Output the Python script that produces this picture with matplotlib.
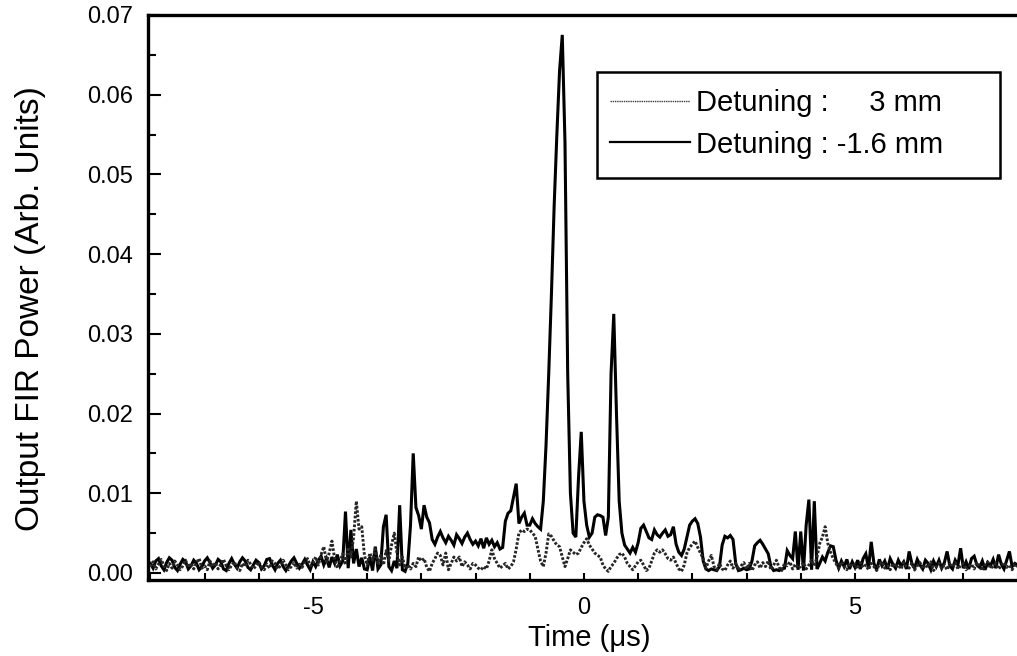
import numpy as np
import matplotlib
matplotlib.use("Agg")
import matplotlib.pyplot as plt
from matplotlib.lines import Line2D
from matplotlib.patches import Rectangle
from matplotlib.ticker import MultipleLocator, FormatStrFormatter

plt.rcParams["font.family"] = ["Liberation Sans", "DejaVu Sans"]
plt.rcParams["axes.unicode_minus"] = False

# Sample times (µs), 0.05 µs spacing from -8 to 8
time_us = np.round(np.arange(-8.0, 8.0 + 1e-9, 0.05), 2)

# Output FIR power in units of 1e-3 (arb.), one row per microsecond
power_3mm = [
    0.8, 1.4, 0.5, 1.1, 1.7, 0.9, 0.3, 1.2, 0.6, 1.5, 1.0, 0.4, 0.9, 1.6, 0.7, 1.2, 0.5, 1.3, 1.8, 0.6,
    0.9, 0.4, 1.5, 0.8, 1.3, 0.5, 1.1, 1.7, 0.9, 0.4, 1.0, 1.4, 0.6, 0.3, 1.2, 0.8, 1.6, 1.1, 0.5, 0.9,
    1.4, 0.7, 0.4, 1.1, 0.6, 1.5, 1.2, 0.5, 0.9, 1.6, 1.0, 0.4, 0.8, 1.3, 0.6, 1.1, 0.7, 1.4, 1.8, 0.9,
    1.2, 2.0, 1.0, 2.3, 3.3, 1.4, 2.5, 4.0, 1.8, 0.6, 1.5, 2.4, 1.0, 3.2, 2.0, 4.5, 9.0, 5.5, 5.8, 2.2,
    1.0, 2.5, 1.6, 3.0, 1.2, 2.2, 1.0, 2.8, 1.5, 3.5, 5.0, 2.5, 1.0, 2.0, 0.6, 1.0, 0.5, 1.2, 0.8, 2.0,
    1.5, 1.8, 0.7, 0.2, 1.2, 1.8, 2.5, 2.2, 1.0, 2.5, 0.4, 1.2, 2.0, 1.5, 2.0, 0.8, 1.4, 1.0, 0.5, 1.2,
    1.0, 0.6, 0.4, 0.8, 0.5, 1.5, 2.9, 1.8, 1.2, 0.6, 0.9, 1.2, 0.5, 0.8, 1.4, 3.0, 5.0, 5.4, 5.2, 5.5,
    5.4, 5.0, 4.6, 3.0, 1.5, 0.8, 2.5, 4.9, 4.6, 4.0, 3.5, 3.3, 2.0, 0.8, 1.8, 2.9, 2.6, 2.3, 2.5, 3.2,
    3.8, 4.3, 3.5, 3.0, 2.5, 2.2, 2.0, 1.0, 0.5, 0.2, 0.8, 1.2, 1.8, 2.3, 2.5, 2.0, 1.2, 0.8, 0.4, 0.9,
    1.4, 1.6, 1.0, 0.3, 0.6, 1.5, 2.5, 2.9, 2.6, 2.9, 2.4, 1.8, 1.6, 2.0, 1.2, 0.5, 0.2, 1.0, 2.5, 3.2,
    3.6, 4.0, 3.2, 2.5, 1.8, 0.6, 1.5, 2.2, 0.8, 0.4, 1.2, 0.5, 0.3, 1.0, 1.5, 0.6, 1.2, 0.4, 0.9, 1.3,
    0.5, 1.2, 0.3, 1.0, 1.4, 0.6, 1.3, 0.8, 1.5, 0.4, 1.0, 1.6, 0.7, 0.3, 1.2, 0.9, 1.4, 0.5, 1.1, 0.6,
    0.8, 1.3, 0.5, 1.0, 1.6, 0.9, 2.0, 3.7, 4.5, 5.8, 3.7, 2.6, 1.8, 1.2, 0.6, 1.4, 0.9, 0.4, 1.2, 0.8,
    1.1, 0.5, 1.3, 0.7, 1.0, 0.4, 1.2, 0.8, 0.3, 1.1, 1.4, 0.6, 0.9, 0.4, 1.2, 0.7, 1.0, 0.5, 1.3, 0.8,
    0.6, 1.2, 0.4, 0.9, 1.3, 0.5, 1.0, 0.7, 1.4, 0.3, 0.8, 1.2, 0.6, 1.0, 0.4, 1.1, 0.8, 1.3, 0.5, 0.9,
    1.2, 0.4, 0.8, 1.1, 0.5, 1.3, 0.9, 0.3, 1.0, 1.4, 0.6, 0.8, 1.2, 0.5, 0.9, 1.3, 0.7, 1.0, 0.4, 1.1,
    0.8,
]

power_m1p6mm = [
    1.2, 0.6, 1.5, 1.8, 0.9, 0.4, 1.3, 1.9, 1.6, 0.7, 0.3, 1.1, 1.7, 1.4, 0.5, 0.9, 1.6, 1.2, 0.4, 0.8,
    1.5, 1.9, 1.3, 0.6, 1.0, 1.7, 1.4, 0.5, 0.3, 1.2, 1.8, 1.1, 0.6, 1.4, 1.9, 1.5, 0.7, 0.4, 1.0, 1.6,
    1.3, 0.5, 0.9, 1.7, 1.8, 1.0, 0.4, 1.2, 1.6, 0.8, 0.3, 0.9, 1.5, 1.9, 1.2, 0.6, 1.1, 1.7, 1.0, 0.4,
    1.4, 0.8, 1.6, 2.1, 1.0, 1.8, 0.7, 2.0, 1.2, 2.3, 0.9, 1.5, 7.7, 0.6, 5.4, 1.2, 3.0, 0.8, 1.9, 0.5,
    0.4, 2.0, 0.3, 3.3, 0.5, 1.0, 5.8, 7.3, 0.8, 0.3, 1.5, 0.6, 8.5, 0.4, 0.2, 1.2, 6.0, 15.0, 8.2, 7.2,
    5.5, 8.5, 7.0, 6.3, 4.2, 3.6, 4.5, 5.2, 4.4, 3.8, 4.6, 4.1, 3.5, 4.8, 4.3, 3.7, 4.5, 5.0, 4.2, 3.6,
    4.0, 3.4, 4.3, 3.1, 4.4, 3.6, 4.1, 3.3, 3.8, 3.0, 3.2, 6.5, 7.5, 7.8, 9.5, 11.2, 6.2, 7.0, 7.5, 6.0,
    6.0, 6.8, 6.2, 5.8, 5.5, 9.0, 16.0, 25.0, 35.0, 46.0, 55.0, 63.0, 67.5, 54.0, 25.0, 10.0, 5.0, 4.5, 12.0, 17.7,
    9.0, 6.0, 4.5, 5.0, 7.0, 7.3, 7.2, 7.0, 4.7, 7.0, 25.0, 32.5, 20.0, 9.0, 5.0, 3.5, 3.0, 2.5, 3.2, 2.6,
    3.8, 5.6, 6.0, 5.2, 4.4, 4.2, 5.4, 4.8, 4.5, 5.0, 5.4, 4.6, 4.8, 5.8, 3.6, 2.6, 2.2, 3.0, 4.5, 6.0,
    6.5, 6.8, 6.2, 4.5, 1.5, 0.5, 0.3, 0.5, 0.4, 0.3, 0.8, 3.5, 4.6, 4.4, 4.7, 4.2, 1.2, 0.3, 0.4, 0.6,
    0.4, 0.5, 1.5, 3.4, 3.8, 4.1, 3.6, 3.0, 2.4, 0.8, 0.3, 0.4, 0.3, 0.5, 0.6, 2.8, 2.2, 1.8, 5.2, 0.4,
    5.2, 0.3, 6.0, 9.2, 0.4, 9.0, 0.5, 1.2, 2.0, 1.5, 2.6, 3.4, 3.3, 1.6, 0.6, 1.5, 0.8, 1.7, 0.5, 1.4,
    0.7, 1.6, 0.5, 1.8, 2.4, 0.6, 3.9, 1.2, 0.4, 1.7, 0.9, 1.5, 0.5, 1.8, 1.1, 0.6, 1.6, 0.9, 1.4, 0.5,
    2.7, 1.2, 0.6, 1.7, 1.0, 0.5, 1.6, 1.2, 0.4, 1.5, 0.8, 1.6, 0.6, 1.3, 2.7, 0.9, 0.5, 1.6, 1.0, 3.1,
    0.6, 1.4, 0.5, 1.8, 2.1, 1.0, 0.7, 1.5, 0.4, 1.3, 0.9, 1.7, 0.6, 2.3, 1.1, 0.5, 1.6, 2.7, 0.8, 1.2,
    1.0,
]

legend_labels = ["Detuning :     3 mm", "Detuning : -1.6 mm"]

y_3mm = np.array(power_3mm) * 1e-3
y_m1p6mm = np.array(power_m1p6mm) * 1e-3

fig = plt.figure(figsize=(10.17, 6.56), dpi=100)
ax = fig.add_axes([0.1455, 0.1159, 0.8584, 0.8613])

ax.plot(time_us, y_m1p6mm, color="black", lw=2.2, solid_joinstyle="miter", zorder=3)
ax.plot(time_us, y_3mm, color="#262626", lw=2.1, ls=(0, (0.9, 0.6)), zorder=4)

ax.set_xlim(-8.044, 8.063)
ax.set_ylim(-0.00088, 0.07)

ax.xaxis.set_major_locator(MultipleLocator(5))
ax.xaxis.set_minor_locator(MultipleLocator(1))
ax.yaxis.set_major_locator(MultipleLocator(0.01))
ax.yaxis.set_minor_locator(MultipleLocator(0.005))
ax.yaxis.set_major_formatter(FormatStrFormatter("%.2f"))

for side in ["left", "bottom", "top", "right"]:
    ax.spines[side].set_linewidth(2.4)

ax.tick_params(axis="y", which="major", direction="in", length=9, width=1.5,
               labelsize=17, pad=11)
ax.tick_params(axis="y", which="minor", direction="in", length=6, width=1.5)
ax.tick_params(axis="x", which="both", direction="in", length=5, width=1.5,
               labelsize=17, pad=12)

ax.set_xlabel("Time (μs)", fontsize=21)
ax.xaxis.set_label_coords(0.506, -0.078)
ax.set_ylabel("Output FIR Power (Arb. Units)", fontsize=24)
ax.yaxis.set_label_coords(-0.117, 0.48)

handles = [
    Line2D([], [], color="#3a3a3a", lw=1.0, ls=(0, (1.0, 0.6))),
    Line2D([], [], color="black", lw=1.6),
]
leg = ax.legend(handles, legend_labels, loc="upper left",
                bbox_to_anchor=(0.529, 0.869), frameon=False, fontsize=21,
                handlelength=2.75, handletextpad=0.2, labelspacing=0.47,
                borderpad=0.0, borderaxespad=0.0)

ax.add_patch(Rectangle((0.5143, 0.7115), 0.976 - 0.5143, 0.899 - 0.7115,
                       transform=ax.transAxes, fill=False, lw=1.8,
                       edgecolor="black", zorder=5))

fig.savefig("out.png", dpi=100)
